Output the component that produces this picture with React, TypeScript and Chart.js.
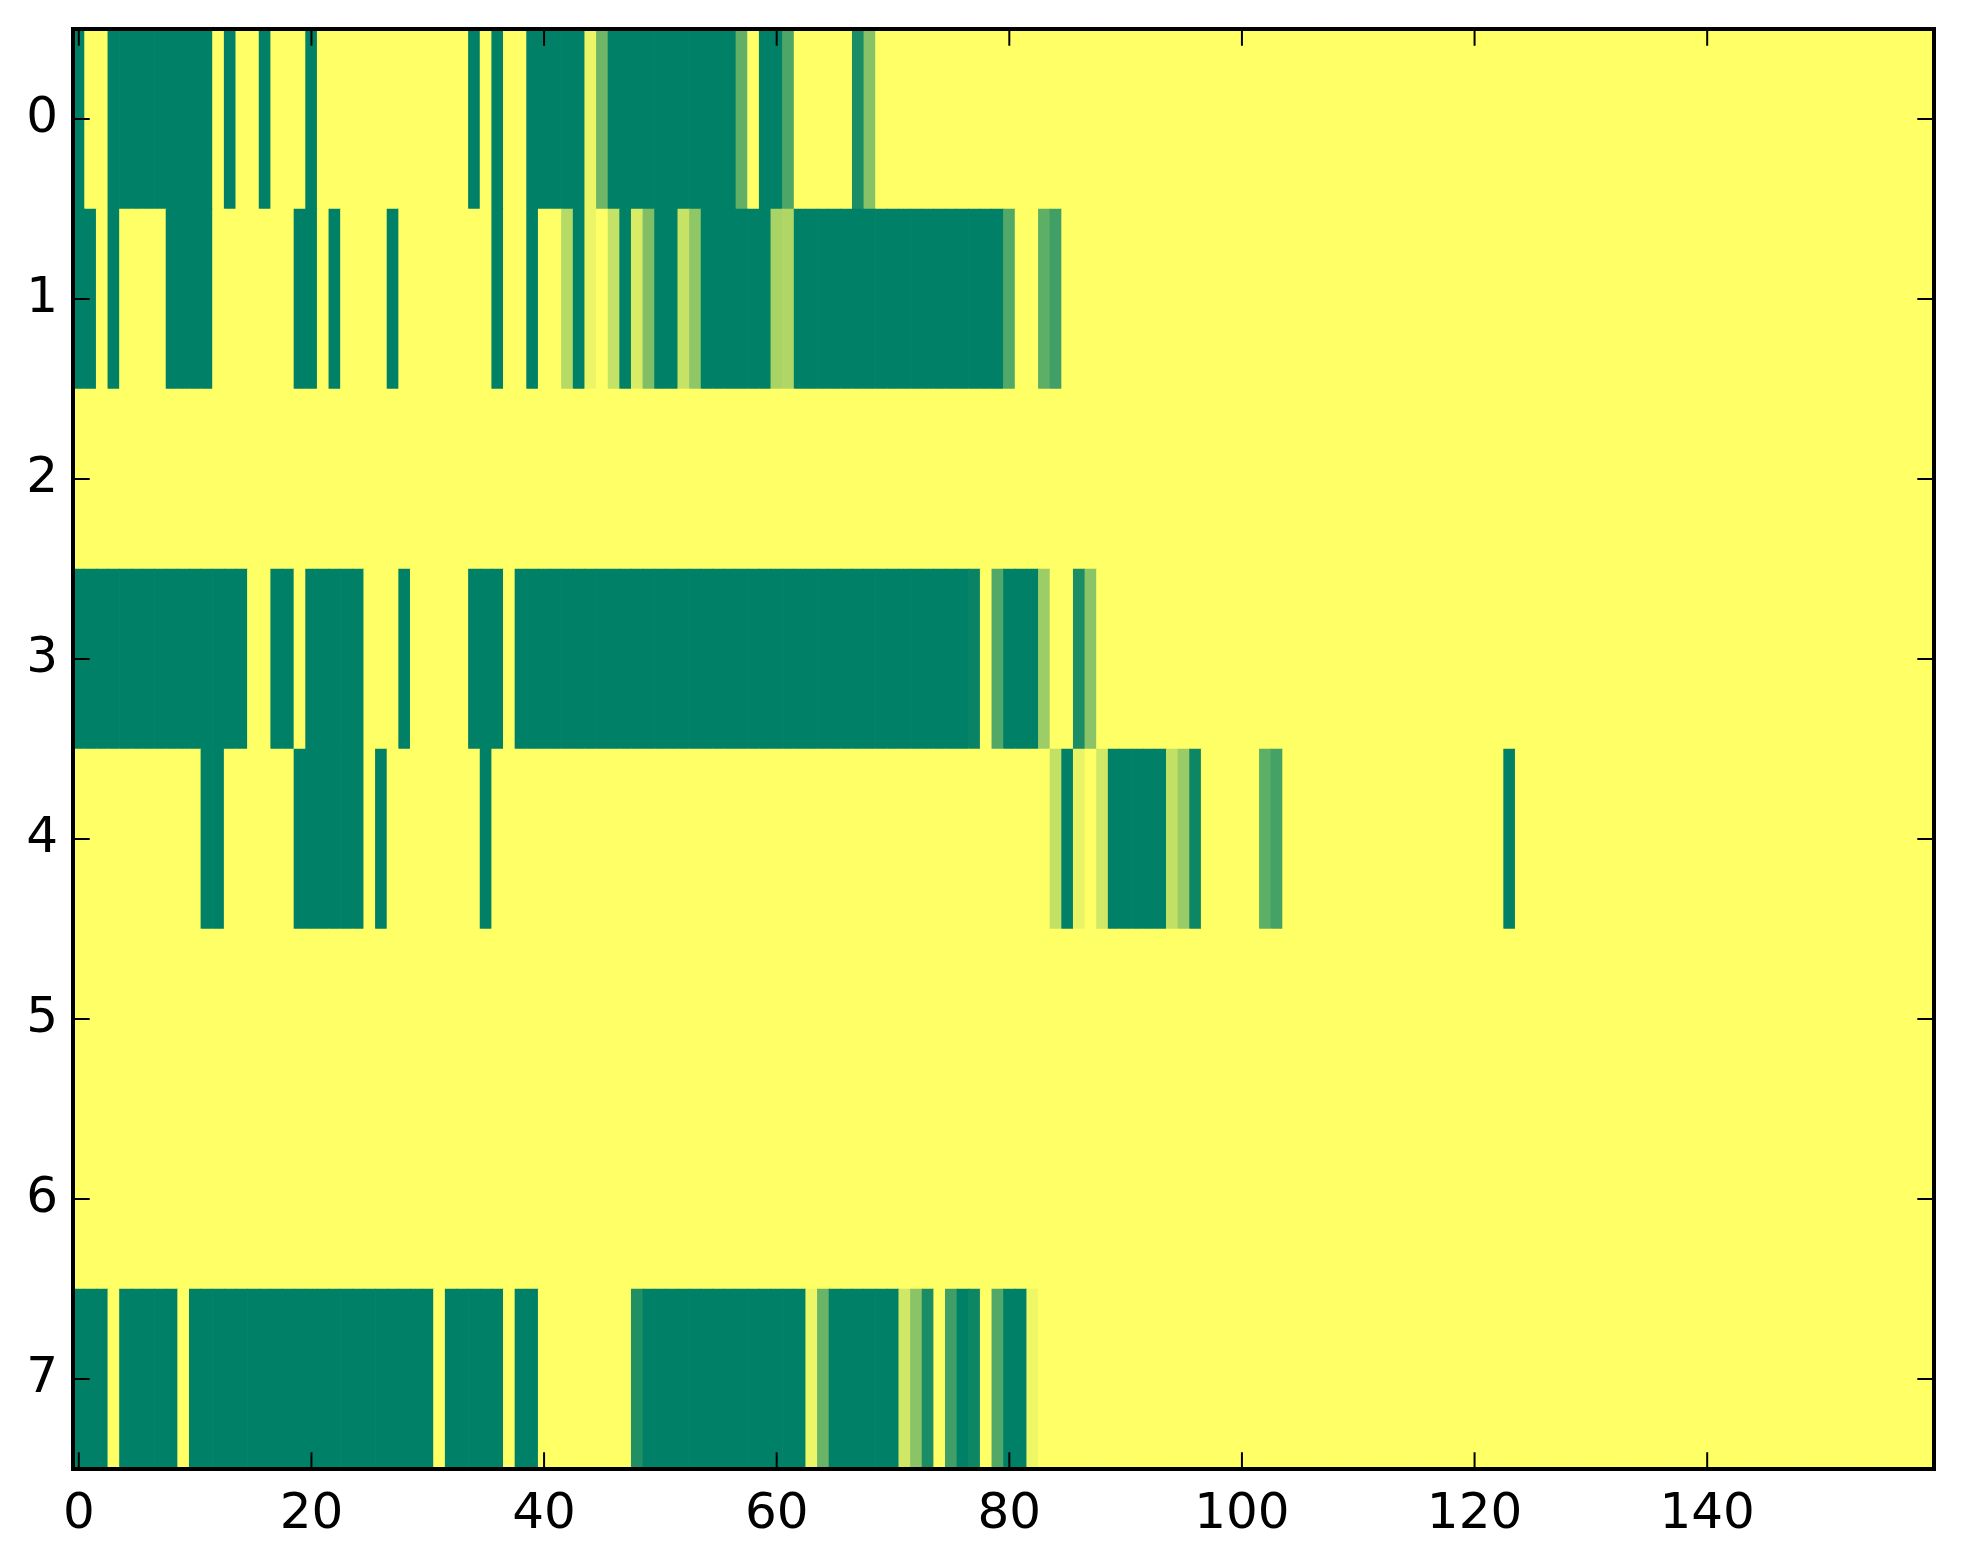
import React, { useEffect, useRef } from 'react';
import { Chart, registerables } from 'chart.js';

Chart.register(...registerables);

const ROW_LABELS = ['0', '1', '2', '3', '4', '5', '6', '7'];
const X_TICKS = [0, 20, 40, 60, 80, 100, 120, 140];
const X_MIN = -0.5;
const X_MAX = 159.5;

const ROW0 = [
  0, 1, 1, 0, 0, 0, 0, 0, 0, 0, 0, 0, 1, 0, 1, 1, 0, 1, 1, 1,
  0, 1, 1, 1, 1, 1, 1, 1, 1, 1, 1, 1, 1, 1, 0, 1, 0, 1, 1, 0,
  0, 0, 0, 0, 0.92, 0.43, 0, 0, 0, 0, 0, 0, 0, 0, 0, 0, 0, 0.38, 1, 0,
  0, 0.3, 1, 1, 1, 1, 1, 0.1, 0.53, 1, 1, 1, 1, 1, 1, 1, 1, 1, 1, 1,
  1, 1, 1, 1, 1, 1, 1, 1, 1, 1, 1, 1, 1, 1, 1, 1, 1, 1, 1, 1,
  1, 1, 1, 1, 1, 1, 1, 1, 1, 1, 1, 1, 1, 1, 1, 1, 1, 1, 1, 1,
  1, 1, 1, 1, 1, 1, 1, 1, 1, 1, 1, 1, 1, 1, 1, 1, 1, 1, 1, 1,
  1, 1, 1, 1, 1, 1, 1, 1, 1, 1, 1, 1, 1, 1, 1, 1, 1, 1, 1, 1,
];

const ROW1 = [
  0, 0, 1, 0, 1, 1, 1, 1, 0, 0, 0, 0, 1, 1, 1, 1, 1, 1, 1, 0,
  0, 1, 0, 1, 1, 1, 1, 0, 1, 1, 1, 1, 1, 1, 1, 1, 0, 1, 1, 0,
  1, 1, 0.71, 0, 0.92, 1, 0.77, 0, 0.85, 0.5, 0, 0, 0.78, 0.56, 0, 0, 0, 0, 0, 0,
  0.66, 0.69, 0, 0, 0, 0, 0, 0, 0, 0, 0, 0, 0, 0, 0, 0, 0, 0, 0, 0,
  0.32, 1, 1, 0.37, 0.25, 1, 1, 1, 1, 1, 1, 1, 1, 1, 1, 1, 1, 1, 1, 1,
  1, 1, 1, 1, 1, 1, 1, 1, 1, 1, 1, 1, 1, 1, 1, 1, 1, 1, 1, 1,
  1, 1, 1, 1, 1, 1, 1, 1, 1, 1, 1, 1, 1, 1, 1, 1, 1, 1, 1, 1,
  1, 1, 1, 1, 1, 1, 1, 1, 1, 1, 1, 1, 1, 1, 1, 1, 1, 1, 1, 1,
];

const ROW2 = [
  1, 1, 1, 1, 1, 1, 1, 1, 1, 1, 1, 1, 1, 1, 1, 1, 1, 1, 1, 1,
  1, 1, 1, 1, 1, 1, 1, 1, 1, 1, 1, 1, 1, 1, 1, 1, 1, 1, 1, 1,
  1, 1, 1, 1, 1, 1, 1, 1, 1, 1, 1, 1, 1, 1, 1, 1, 1, 1, 1, 1,
  1, 1, 1, 1, 1, 1, 1, 1, 1, 1, 1, 1, 1, 1, 1, 1, 1, 1, 1, 1,
  1, 1, 1, 1, 1, 1, 1, 1, 1, 1, 1, 1, 1, 1, 1, 1, 1, 1, 1, 1,
  1, 1, 1, 1, 1, 1, 1, 1, 1, 1, 1, 1, 1, 1, 1, 1, 1, 1, 1, 1,
  1, 1, 1, 1, 1, 1, 1, 1, 1, 1, 1, 1, 1, 1, 1, 1, 1, 1, 1, 1,
  1, 1, 1, 1, 1, 1, 1, 1, 1, 1, 1, 1, 1, 1, 1, 1, 1, 1, 1, 1,
];

const ROW3 = [
  0, 0, 0, 0, 0, 0, 0, 0, 0, 0, 0, 0, 0, 0, 0, 1, 1, 0, 0, 1,
  0, 0, 0, 0, 0, 1, 1, 1, 0, 1, 1, 1, 1, 1, 0, 0, 0, 1, 0, 0,
  0, 0, 0, 0, 0, 0, 0, 0, 0, 0, 0, 0, 0, 0, 0, 0, 0, 0, 0, 0,
  0, 0, 0, 0, 0, 0, 0, 0, 0, 0, 0, 0, 0, 0, 0, 0, 0, 0.03, 1, 0.32,
  0, 0, 0, 0.61, 1, 1, 0.1, 0.54, 1, 1, 1, 1, 1, 1, 1, 1, 1, 1, 1, 1,
  1, 1, 1, 1, 1, 1, 1, 1, 1, 1, 1, 1, 1, 1, 1, 1, 1, 1, 1, 1,
  1, 1, 1, 1, 1, 1, 1, 1, 1, 1, 1, 1, 1, 1, 1, 1, 1, 1, 1, 1,
  1, 1, 1, 1, 1, 1, 1, 1, 1, 1, 1, 1, 1, 1, 1, 1, 1, 1, 1, 1,
];

const ROW4 = [
  1, 1, 1, 1, 1, 1, 1, 1, 1, 1, 1, 0, 0, 1, 1, 1, 1, 1, 1, 0,
  0, 0, 0, 0, 0, 1, 0, 1, 1, 1, 1, 1, 1, 1, 1, 0, 1, 1, 1, 1,
  1, 1, 1, 1, 1, 1, 1, 1, 1, 1, 1, 1, 1, 1, 1, 1, 1, 1, 1, 1,
  1, 1, 1, 1, 1, 1, 1, 1, 1, 1, 1, 1, 1, 1, 1, 1, 1, 1, 1, 1,
  1, 1, 1, 1, 0.76, 0, 0.91, 1, 0.82, 0, 0, 0, 0, 0, 0.76, 0.6, 0.05, 1, 1, 1,
  1, 1, 0.37, 0.27, 1, 1, 1, 1, 1, 1, 1, 1, 1, 1, 1, 1, 1, 1, 1, 1,
  1, 1, 1, 0, 1, 1, 1, 1, 1, 1, 1, 1, 1, 1, 1, 1, 1, 1, 1, 1,
  1, 1, 1, 1, 1, 1, 1, 1, 1, 1, 1, 1, 1, 1, 1, 1, 1, 1, 1, 1,
];

const ROW5 = [
  1, 1, 1, 1, 1, 1, 1, 1, 1, 1, 1, 1, 1, 1, 1, 1, 1, 1, 1, 1,
  1, 1, 1, 1, 1, 1, 1, 1, 1, 1, 1, 1, 1, 1, 1, 1, 1, 1, 1, 1,
  1, 1, 1, 1, 1, 1, 1, 1, 1, 1, 1, 1, 1, 1, 1, 1, 1, 1, 1, 1,
  1, 1, 1, 1, 1, 1, 1, 1, 1, 1, 1, 1, 1, 1, 1, 1, 1, 1, 1, 1,
  1, 1, 1, 1, 1, 1, 1, 1, 1, 1, 1, 1, 1, 1, 1, 1, 1, 1, 1, 1,
  1, 1, 1, 1, 1, 1, 1, 1, 1, 1, 1, 1, 1, 1, 1, 1, 1, 1, 1, 1,
  1, 1, 1, 1, 1, 1, 1, 1, 1, 1, 1, 1, 1, 1, 1, 1, 1, 1, 1, 1,
  1, 1, 1, 1, 1, 1, 1, 1, 1, 1, 1, 1, 1, 1, 1, 1, 1, 1, 1, 1,
];

const ROW6 = [
  1, 1, 1, 1, 1, 1, 1, 1, 1, 1, 1, 1, 1, 1, 1, 1, 1, 1, 1, 1,
  1, 1, 1, 1, 1, 1, 1, 1, 1, 1, 1, 1, 1, 1, 1, 1, 1, 1, 1, 1,
  1, 1, 1, 1, 1, 1, 1, 1, 1, 1, 1, 1, 1, 1, 1, 1, 1, 1, 1, 1,
  1, 1, 1, 1, 1, 1, 1, 1, 1, 1, 1, 1, 1, 1, 1, 1, 1, 1, 1, 1,
  1, 1, 1, 1, 1, 1, 1, 1, 1, 1, 1, 1, 1, 1, 1, 1, 1, 1, 1, 1,
  1, 1, 1, 1, 1, 1, 1, 1, 1, 1, 1, 1, 1, 1, 1, 1, 1, 1, 1, 1,
  1, 1, 1, 1, 1, 1, 1, 1, 1, 1, 1, 1, 1, 1, 1, 1, 1, 1, 1, 1,
  1, 1, 1, 1, 1, 1, 1, 1, 1, 1, 1, 1, 1, 1, 1, 1, 1, 1, 1, 1,
];

const ROW7 = [
  0, 0, 0, 1, 0, 0, 0, 0, 0, 1, 0, 0, 0, 0, 0, 0, 0, 0, 0, 0,
  0, 0, 0, 0, 0, 0, 0, 0, 0, 0, 0, 1, 0, 0, 0, 0, 0, 1, 0, 0,
  1, 1, 1, 1, 1, 1, 1, 1, 0.12, 0, 0, 0, 0, 0, 0, 0, 0, 0, 0, 0,
  0, 0, 0, 0.93, 0.41, 0, 0, 0, 0, 0, 0, 0.82, 0.54, 0.1, 1, 0.25, 0, 0.05, 1, 0.32,
  0, 0, 0.94, 1, 1, 1, 1, 1, 1, 1, 1, 1, 1, 1, 1, 1, 1, 1, 1, 1,
  1, 1, 1, 1, 1, 1, 1, 1, 1, 1, 1, 1, 1, 1, 1, 1, 1, 1, 1, 1,
  1, 1, 1, 1, 1, 1, 1, 1, 1, 1, 1, 1, 1, 1, 1, 1, 1, 1, 1, 1,
  1, 1, 1, 1, 1, 1, 1, 1, 1, 1, 1, 1, 1, 1, 1, 1, 1, 1, 1, 1,
];

const ROWS = [ROW0, ROW1, ROW2, ROW3, ROW4, ROW5, ROW6, ROW7];

// matplotlib "summer" colormap
function summer(v: number): string {
  const t = Math.max(0, Math.min(1, v));
  const r = Math.round(255 * t);
  const g = Math.round(255 * (0.5 + 0.5 * t));
  return `rgb(${r},${g},102)`;
}

const FONT = { family: "'DejaVu Sans'", size: 50 };

const framePlugin = {
  id: 'mplFrame',
  afterDraw(chart: any) {
    const { ctx, chartArea: a, scales } = chart;
    const xs = scales.x;
    const ys = scales.y;
    const L = 16.7;
    ctx.save();
    ctx.strokeStyle = '#000';
    ctx.lineWidth = 2;
    ctx.beginPath();
    X_TICKS.forEach((v) => {
      const px = xs.getPixelForValue(v);
      ctx.moveTo(px, a.bottom);
      ctx.lineTo(px, a.bottom - L);
      ctx.moveTo(px, a.top);
      ctx.lineTo(px, a.top + L);
    });
    ROW_LABELS.forEach((_, i) => {
      const py = ys.getPixelForValue(i);
      ctx.moveTo(a.left, py);
      ctx.lineTo(a.left + L, py);
      ctx.moveTo(a.right, py);
      ctx.lineTo(a.right - L, py);
    });
    ctx.stroke();
    ctx.lineWidth = 4;
    ctx.lineJoin = 'miter';
    ctx.strokeRect(a.left, a.top, a.right - a.left, a.bottom - a.top);
    ctx.restore();
  },
};

export default function App() {
  const ref = useRef<HTMLCanvasElement | null>(null);

  useEffect(() => {
    if (!ref.current) return;
    const cells: any[] = [];
    const colors: string[] = [];
    ROWS.forEach((row, r) => {
      row.forEach((v, c) => {
        cells.push({ x: [c - 0.5, c + 0.5], y: ROW_LABELS[r] });
        colors.push(summer(v));
      });
    });

    const chart = new Chart(ref.current, {
      type: 'bar',
      data: {
        datasets: [
          {
            data: cells,
            backgroundColor: colors,
            borderWidth: 0,
            barPercentage: 1,
            categoryPercentage: 1,
          } as any,
        ],
      },
      options: {
        indexAxis: 'y',
        animation: false,
        responsive: false,
        devicePixelRatio: 1,
        layout: { padding: { top: 29, right: 29, left: 0, bottom: 0 } },
        plugins: {
          legend: { display: false },
          tooltip: { enabled: false },
        },
        scales: {
          x: {
            type: 'linear',
            min: X_MIN,
            max: X_MAX,
            grid: { display: false },
            border: { display: false },
            afterBuildTicks: (s: any) => {
              s.ticks = X_TICKS.map((v) => ({ value: v }));
            },
            afterFit: (s: any) => {
              s.height = 95;
              s.paddingLeft = 0;
              s.paddingRight = 0;
              s.paddingTop = 0;
              s.paddingBottom = 0;
            },
            ticks: {
              font: FONT,
              color: '#000',
              padding: 8,
              autoSkip: false,
              maxRotation: 0,
              minRotation: 0,
            },
          },
          y: {
            type: 'category',
            labels: ROW_LABELS,
            offset: true,
            grid: { display: false },
            border: { display: false },
            afterFit: (s: any) => {
              s.width = 73;
              s.paddingLeft = 0;
              s.paddingRight = 0;
              s.paddingTop = 0;
              s.paddingBottom = 0;
            },
            ticks: {
              font: FONT,
              color: '#000',
              padding: 7,
              autoSkip: false,
            },
          },
        },
      } as any,
      plugins: [framePlugin],
    });

    return () => chart.destroy();
  }, []);

  return (
    <div style={{ position: 'absolute', left: 0, top: 0, width: 1963, height: 1564, background: '#fff' }}>
      <canvas ref={ref} width={1963} height={1564} style={{ display: 'block', width: 1963, height: 1564 }} />
    </div>
  );
}
